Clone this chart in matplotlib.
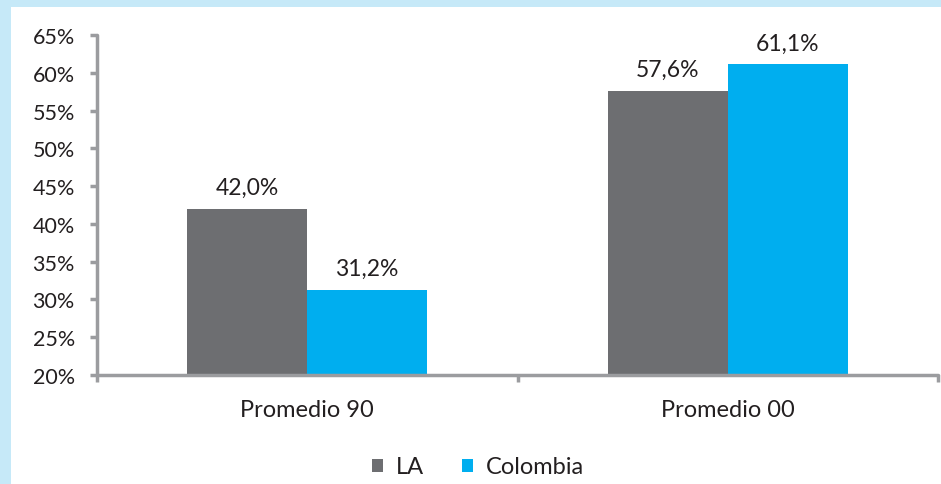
import matplotlib
matplotlib.use("Agg")
import matplotlib.pyplot as plt
from matplotlib.patches import Rectangle
import numpy as np

categories = ["Promedio 90", "Promedio 00"]
series_names = ["LA", "Colombia"]
la_values = [42.0, 57.6]
colombia_values = [31.2, 61.1]
y_ticks = [20, 25, 30, 35, 40, 45, 50, 55, 60, 65]

colors = ["#6d6e71", "#00aeef"]
axis_gray = "#9b9c9f"
text_color = "#231f20"

plt.rcParams["font.family"] = ["Lato", "DejaVu Sans"]

W, H = 941, 485
fig = plt.figure(figsize=(W / 100, H / 100), dpi=100)
fig.patch.set_facecolor("#c6e9f8")
fig.patches.append(Rectangle((11 / W, 0), 1, (H - 8) / H, transform=fig.transFigure,
                             facecolor="white", edgecolor="none", zorder=-10))

ax = fig.add_axes([97 / W, (H - 376) / H, (938 - 97) / W, (376 - 36) / H])
ax.set_facecolor("none")
ax.set_zorder(5)

x = np.arange(len(categories))
bw = 0.285
bars = []
for i, (vals, name) in enumerate(zip([la_values, colombia_values], series_names)):
    b = ax.bar(x + (i - 0.5) * bw, [v - 20 for v in vals], bw, bottom=20,
               color=colors[i], label=name, zorder=2)
    bars.append(b)
    for rect, v in zip(b, vals):
        ax.annotate(f"{v:.1f}%".replace(".", ","),
                    (rect.get_x() + rect.get_width() / 2, v),
                    xytext=(0, 8), textcoords="offset points",
                    ha="center", va="bottom", fontsize=16.5, color=text_color)

ax.set_ylim(20, 65)
ax.set_xlim(-0.5, len(categories) - 0.5)
ax.set_yticks(y_ticks)
ax.set_yticklabels([f"{t}%" for t in y_ticks], fontsize=15.5, color=text_color)

ax.set_xticks(np.arange(-0.5, len(categories)), minor=False)
ax.set_xticklabels([])
ax.set_xticks(x, minor=True)
ax.set_xticklabels(categories, minor=True, fontsize=17, color=text_color)
ax.tick_params(axis="x", which="minor", length=0, pad=17)
ax.tick_params(axis="x", which="major", length=5, width=2.5, color=axis_gray, direction="out")
ax.tick_params(axis="y", length=5, width=2.5, color=axis_gray, direction="out", pad=11)

for side in ["top", "right"]:
    ax.spines[side].set_visible(False)
for side in ["left", "bottom"]:
    ax.spines[side].set_color(axis_gray)
    ax.spines[side].set_linewidth(2.5)
    ax.spines[side].set_capstyle("round")

leg = fig.legend(handles=bars, labels=series_names, loc="center",
                 bbox_to_anchor=(478 / W, (H - 468) / H), ncol=2, frameon=False,
                 fontsize=17, handlelength=0.47, handleheight=0.47, columnspacing=1.6,
                 handletextpad=0.55)
for t in leg.get_texts():
    t.set_color(text_color)

fig.savefig("out.png", dpi=100, facecolor=fig.get_facecolor())
